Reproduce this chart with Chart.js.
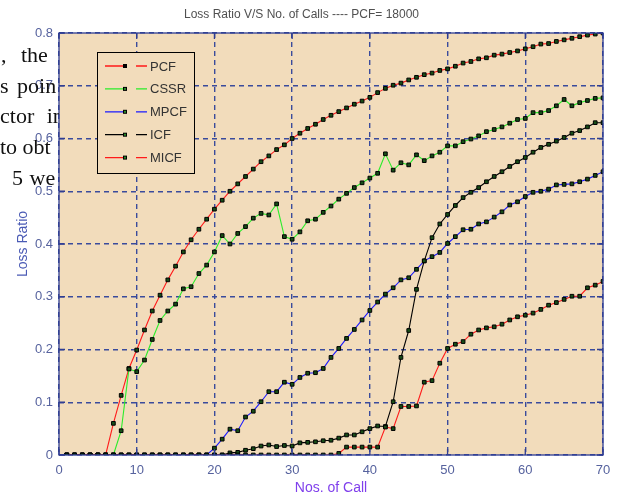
<!DOCTYPE html>
<html>
<head>
<meta charset="utf-8">
<script src="https://cdn.jsdelivr.net/npm/chart.js@4.4.1/dist/chart.umd.min.js"></script>
<style>
  body { margin: 0; background: #fff; }
  #wrap { position: relative; width: 619px; height: 495px; }
  #page-text { position: absolute; left: 0; top: 0; width: 59px; height: 200px; overflow: hidden;
    font-family: "Liberation Serif", serif; font-size: 22px; color: #111; pointer-events: none; }
  #page-text div { position: absolute; white-space: nowrap; line-height: normal; }
</style>
</head>
<body>
<div id="wrap">
  <canvas id="loss-chart" width="619" height="495"></canvas>
  <div id="page-text">
    <div style="left:1px; top:42px; word-spacing:9px">, the t</div>
    <div style="left:0px; top:73px; word-spacing:3px">s poin</div>
    <div style="left:0px; top:103px; word-spacing:7px">ctor in</div>
    <div style="left:0px; top:134px">to obt</div>
    <div style="left:12px; top:165px; word-spacing:1px">5 we</div>
  </div>
</div>
<script>
// number of calls on the x axis
var calls = [1, 2, 3, 4, 5, 6, 7, 8, 9, 10, 11, 12, 13, 14, 15, 16, 17, 18, 19, 20,
  21, 22, 23, 24, 25, 26, 27, 28, 29, 30, 31, 32, 33, 34, 35, 36, 37, 38, 39, 40,
  41, 42, 43, 44, 45, 46, 47, 48, 49, 50, 51, 52, 53, 54, 55, 56, 57, 58, 59, 60,
  61, 62, 63, 64, 65, 66, 67, 68, 69, 70];

// loss ratio per scheme
var pcf = [0, 0, 0, 0, 0, 0, 0.06, 0.113, 0.164, 0.199,
  0.237, 0.273, 0.303, 0.332, 0.358, 0.385, 0.408, 0.428, 0.447, 0.466,
  0.483, 0.5, 0.514, 0.528, 0.542, 0.556, 0.567, 0.579, 0.588, 0.6,
  0.61, 0.619, 0.627, 0.636, 0.644, 0.651, 0.658, 0.665, 0.671, 0.678,
  0.687, 0.695, 0.701, 0.705, 0.711, 0.716, 0.721, 0.724, 0.729, 0.732,
  0.737, 0.743, 0.746, 0.751, 0.753, 0.758, 0.76, 0.763, 0.766, 0.77,
  0.774, 0.779, 0.78, 0.784, 0.787, 0.79, 0.793, 0.796, 0.798, 0.8];
var cssr = [0, 0, 0, 0, 0, 0, 0, 0.046, 0.163, 0.158,
  0.18, 0.219, 0.255, 0.273, 0.286, 0.315, 0.319, 0.344, 0.36, 0.385,
  0.416, 0.4, 0.42, 0.433, 0.449, 0.458, 0.455, 0.476, 0.414, 0.409,
  0.423, 0.444, 0.447, 0.46, 0.472, 0.485, 0.496, 0.507, 0.516, 0.525,
  0.534, 0.571, 0.54, 0.554, 0.55, 0.569, 0.558, 0.567, 0.574, 0.586,
  0.586, 0.594, 0.599, 0.605, 0.613, 0.617, 0.622, 0.629, 0.636, 0.638,
  0.649, 0.649, 0.653, 0.662, 0.674, 0.662, 0.668, 0.672, 0.676, 0.677];
var mpcf = [0, 0, 0, 0, 0, 0, 0, 0, 0, 0,
  0, 0, 0, 0, 0, 0, 0, 0, 0, 0.013,
  0.03, 0.049, 0.046, 0.072, 0.083, 0.101, 0.12, 0.12, 0.138, 0.134,
  0.147, 0.155, 0.156, 0.164, 0.185, 0.202, 0.221, 0.238, 0.256, 0.274,
  0.29, 0.305, 0.317, 0.332, 0.336, 0.352, 0.368, 0.376, 0.384, 0.401,
  0.414, 0.427, 0.428, 0.438, 0.442, 0.451, 0.461, 0.474, 0.48, 0.49,
  0.498, 0.5, 0.504, 0.512, 0.513, 0.514, 0.518, 0.523, 0.53, 0.537];
var icf = [0, 0, 0, 0, 0, 0, 0, 0, 0, 0,
  0, 0, 0, 0, 0, 0, 0, 0, 0, 0,
  0, 0.004, 0.005, 0.009, 0.012, 0.017, 0.019, 0.016, 0.018, 0.017,
  0.023, 0.024, 0.025, 0.027, 0.028, 0.032, 0.038, 0.038, 0.044, 0.05,
  0.055, 0.054, 0.101, 0.185, 0.236, 0.314, 0.368, 0.412, 0.438, 0.456,
  0.473, 0.488, 0.498, 0.507, 0.518, 0.528, 0.537, 0.547, 0.556, 0.564,
  0.574, 0.583, 0.589, 0.595, 0.602, 0.61, 0.615, 0.622, 0.63, 0.63];
var micf = [0, 0, 0, 0, 0, 0, 0, 0, 0, 0,
  0, 0, 0, 0, 0, 0, 0, 0, 0, 0,
  0, 0, 0, 0, 0, 0, 0, 0, 0, 0,
  0, 0, 0, 0, 0, 0.003, 0.015, 0.015, 0.015, 0.015,
  0.015, 0.053, 0.05, 0.092, 0.092, 0.093, 0.138, 0.141, 0.174, 0.202,
  0.21, 0.215, 0.229, 0.237, 0.241, 0.243, 0.248, 0.256, 0.262, 0.265,
  0.269, 0.276, 0.284, 0.289, 0.295, 0.301, 0.301, 0.317, 0.322, 0.329];

var seriesNames = ["PCF", "CSSR", "MPCF", "ICF", "MICF"];
var seriesColors = ["#ff1a1a", "#2bec2b", "#1a1aff", "#000000", "#ff1a1a"];

var xTicks = [0, 10, 20, 30, 40, 50, 60, 70];
var yTicks = [0, 0.1, 0.2, 0.3, 0.4, 0.5, 0.6, 0.7, 0.8];

var tan = "#f2dcbb";
var axisBlue = "#2f3d92";
var gridBlue = "#3a4b9c";
var tickGrey = "#56629e";

function toPoints(vals) {
  return vals.map(function (v, i) { return { x: calls[i], y: v }; });
}

var datasets = [pcf, cssr, mpcf, icf, micf].map(function (vals, i) {
  return {
    label: seriesNames[i],
    data: toPoints(vals),
    borderColor: seriesColors[i],
    borderWidth: 1.1,
    tension: 0,
    pointStyle: "rect",
    pointRadius: 2.6,
    pointBorderWidth: 1,
    pointBorderColor: "#000",
    pointBackgroundColor: "#174d17",
    order: 4 - i
  };
});

// tan plot area, MATLAB style box with inner ticks, and the boxed legend
var matlabFrame = {
  id: "matlabFrame",
  beforeDraw: function (chart) {
    var a = chart.chartArea, c = chart.ctx;
    c.save();
    c.fillStyle = tan;
    c.fillRect(a.left, a.top, a.right - a.left, a.bottom - a.top);
    c.restore();
  },
  afterDraw: function (chart) {
    var a = chart.chartArea, c = chart.ctx;
    var xs = chart.scales.x, ys = chart.scales.y;
    c.save();
    c.strokeStyle = axisBlue;
    c.lineWidth = 1.3;
    c.strokeRect(a.left, a.top, a.right - a.left, a.bottom - a.top);
    c.beginPath();
    xTicks.forEach(function (t) {
      var px = xs.getPixelForValue(t);
      c.moveTo(px, a.bottom); c.lineTo(px, a.bottom - 6);
      c.moveTo(px, a.top); c.lineTo(px, a.top + 6);
    });
    yTicks.forEach(function (t) {
      var py = ys.getPixelForValue(t);
      c.moveTo(a.left, py); c.lineTo(a.left + 6, py);
      c.moveTo(a.right, py); c.lineTo(a.right - 6, py);
    });
    c.stroke();

    // legend
    var bx = 97, by = 52, bw = 97, bh = 121;
    c.fillStyle = tan;
    c.fillRect(bx, by, bw, bh);
    c.strokeStyle = "#000";
    c.lineWidth = 1;
    c.strokeRect(bx + 0.5, by + 0.5, bw, bh);
    c.font = "13px 'Liberation Sans', Arial, sans-serif";
    c.textBaseline = "middle";
    chart.data.datasets.forEach(function (ds, i) {
      var y = 66 + i * 22.9;
      c.strokeStyle = ds.borderColor;
      c.lineWidth = 1.3;
      c.beginPath();
      c.moveTo(105, y); c.lineTo(125, y);
      c.moveTo(136, y); c.lineTo(147, y);
      c.stroke();
      c.fillStyle = "#000";
      c.fillRect(123, y - 2, 4, 4);
      if (i > 0) { c.fillStyle = "#2a8a2a"; c.fillRect(124, y - 1, 2, 2); }
      c.fillStyle = "#333";
      c.fillText(ds.label, 150, y + 1);
    });
    c.restore();
  }
};

var ctx = document.getElementById("loss-chart").getContext("2d");
var lossChart = new Chart(ctx, {
  type: "line",
  data: { datasets: datasets },
  plugins: [matlabFrame],
  options: {
    responsive: false,
    animation: false,
    layout: { padding: { left: 0, right: 16, top: 0, bottom: 0 } },
    plugins: {
      legend: { display: false },
      tooltip: { enabled: false },
      title: {
        display: true,
        text: "Loss Ratio V/S No. of Calls ---- PCF= 18000",
        color: "#505050",
        font: { family: "'Liberation Sans', Arial, sans-serif", size: 12, weight: "normal" },
        padding: { top: 7, bottom: 11.6 }
      }
    },
    scales: {
      x: {
        type: "linear",
        min: 0,
        max: 70,
        afterBuildTicks: function (s) { s.ticks = xTicks.map(function (v) { return { value: v }; }); },
        afterFit: function (s) { s.height = 40; },
        ticks: {
          color: tickGrey,
          padding: 8,
          maxRotation: 0,
          font: { family: "'Liberation Sans', Arial, sans-serif", size: 13 }
        },
        grid: { color: gridBlue, lineWidth: 1.4, drawTicks: false },
        border: { display: false, dash: [5, 4] },
        title: {
          display: true,
          text: "Nos. of Call",
          color: "#8040ec",
          font: { family: "'Liberation Sans', Arial, sans-serif", size: 14, lineHeight: 1 },
          padding: { top: 0, bottom: 0 }
        }
      },
      y: {
        min: 0,
        max: 0.8,
        afterBuildTicks: function (s) { s.ticks = yTicks.map(function (v) { return { value: v }; }); },
        afterFit: function (s) { s.width = 59; },
        ticks: {
          color: tickGrey,
          padding: 6,
          font: { family: "'Liberation Sans', Arial, sans-serif", size: 13 },
          callback: function (v) { return String(v); }
        },
        grid: { color: gridBlue, lineWidth: 1.4, drawTicks: false },
        border: { display: false, dash: [5, 4] },
        title: {
          display: true,
          text: "Loss Ratio",
          color: "#4b5bb5",
          font: { family: "'Liberation Sans', Arial, sans-serif", size: 14 },
          padding: { top: 15, bottom: 0 }
        }
      }
    }
  }
});
</script>
</body>
</html>
